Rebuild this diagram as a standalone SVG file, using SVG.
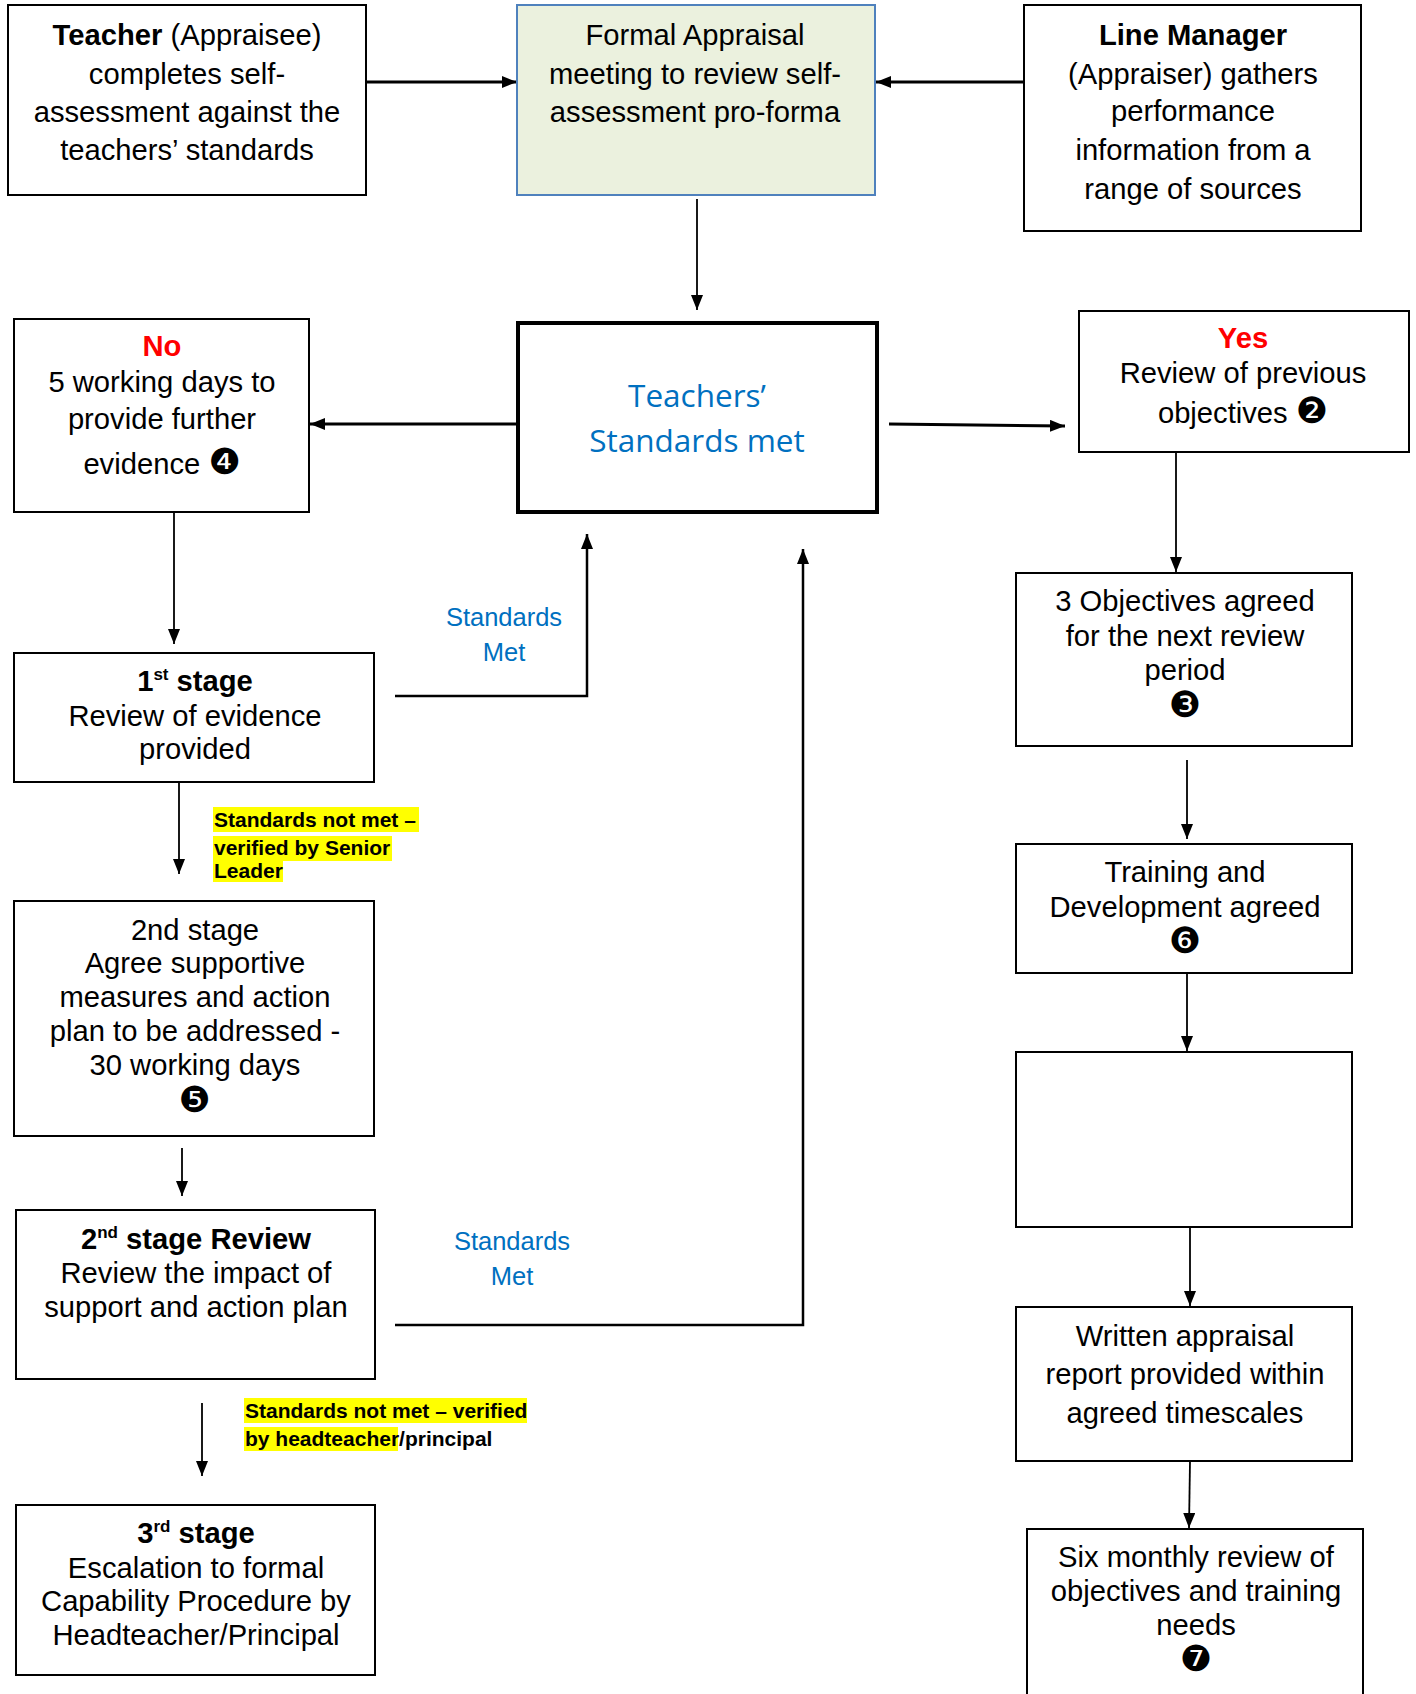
<svg xmlns="http://www.w3.org/2000/svg" width="1416" height="1694" viewBox="0 0 1416 1694">
<style>
.box{fill:#fff;stroke:#000;stroke-width:2}
.t{font-family:"Liberation Sans",Arial,sans-serif;font-size:29.2px;fill:#000;text-anchor:middle}
.b{font-weight:bold}
.red{fill:#ff0000;font-weight:bold}
.blue{font-family:"Liberation Sans",Arial,sans-serif;font-size:25.5px;fill:#0070c0;text-anchor:middle}
.num{font-family:"DejaVu Sans",sans-serif;font-size:36px}
.hl{fill:#ffff00}
.lab{font-family:"Liberation Sans",Arial,sans-serif;font-size:21px;font-weight:bold;fill:#000}
.c{fill:none;stroke:#000;stroke-width:1.8}
.ck{fill:none;stroke:#000;stroke-width:3}
.sup{font-size:17px}
</style>
<defs>
<marker id="a" markerUnits="userSpaceOnUse" markerWidth="16" markerHeight="12" refX="15" refY="6" orient="auto">
<path d="M0,0 L15,6 L0,12 z" fill="#000"/>
</marker>
</defs>

<g id="connectors">
<line class="ck" x1="366" y1="82" x2="517" y2="82" marker-end="url(#a)"/>
<line class="ck" x1="1026" y1="82" x2="876" y2="82" marker-end="url(#a)"/>
<line class="c" x1="697" y1="199" x2="697" y2="310" marker-end="url(#a)"/>
<line class="ck" x1="518" y1="424" x2="310" y2="424" marker-end="url(#a)"/>
<line class="ck" x1="889" y1="424" x2="1065" y2="426" marker-end="url(#a)"/>
<line class="c" x1="1176" y1="452" x2="1176" y2="572" marker-end="url(#a)"/>
<line class="c" x1="1187" y1="760" x2="1187" y2="839" marker-end="url(#a)"/>
<line class="c" x1="1187" y1="973" x2="1187" y2="1051" marker-end="url(#a)"/>
<line class="c" x1="1190" y1="1227" x2="1190" y2="1306" marker-end="url(#a)"/>
<line class="c" x1="1190" y1="1461" x2="1189" y2="1528" marker-end="url(#a)"/>
<line class="c" x1="174" y1="512" x2="174" y2="644" marker-end="url(#a)"/>
<polyline class="c" style="stroke-width:2.5" points="395,696 587,696 587,534" marker-end="url(#a)"/>
<line class="c" x1="179" y1="782" x2="179" y2="874" marker-end="url(#a)"/>
<line class="c" x1="182" y1="1148" x2="182" y2="1196" marker-end="url(#a)"/>
<polyline class="c" style="stroke-width:2.5" points="395,1325 803,1325 803,549" marker-end="url(#a)"/>
<line class="c" x1="202" y1="1403" x2="202" y2="1476" marker-end="url(#a)"/>
<text class="blue" x="504" y="626">Standards</text>
<text class="blue" x="504" y="661">Met</text>
<text class="blue" x="512" y="1250">Standards</text>
<text class="blue" x="512" y="1285">Met</text>
<rect class="hl" x="213" y="807" width="206" height="25"/>
<rect class="hl" x="213" y="836" width="179" height="25"/>
<rect class="hl" x="213" y="861" width="70" height="21"/>
<text class="lab" x="214" y="827">Standards not met –</text>
<text class="lab" x="214" y="855">verified by Senior</text>
<text class="lab" x="214" y="878">Leader</text>
<rect class="hl" x="244" y="1398" width="283" height="25"/>
<rect class="hl" x="244" y="1427" width="154" height="24"/>
<text class="lab" x="245" y="1418">Standards not met – verified</text>
<text class="lab" x="245" y="1446">by headteacher/principal</text>
</g>

<g id="teacher">
<rect class="box" x="8" y="5" width="358" height="190"/>
<text class="t" x="187" y="45"><tspan class="b">Teacher</tspan> (Appraisee)</text>
<text class="t" x="187" y="84">completes self-</text>
<text class="t" x="187" y="122">assessment against the</text>
<text class="t" x="187" y="160">teachers’ standards</text>
</g>

<g id="formal">
<rect x="517" y="5" width="358" height="190" fill="#ebf1de" stroke="#4f81bd" stroke-width="2"/>
<text class="t" x="695" y="45">Formal Appraisal</text>
<text class="t" x="695" y="84">meeting to review self-</text>
<text class="t" x="695" y="122">assessment pro-forma</text>
</g>

<g id="linemanager">
<rect class="box" x="1024" y="5" width="337" height="226"/>
<text class="t b" x="1193" y="45">Line Manager</text>
<text class="t" x="1193" y="84">(Appraiser) gathers</text>
<text class="t" x="1193" y="121">performance</text>
<text class="t" x="1193" y="160">information from a</text>
<text class="t" x="1193" y="199">range of sources</text>
</g>

<g id="standards">
<rect x="518" y="323" width="359" height="189" fill="#fff" stroke="#000" stroke-width="4"/>
<text x="697" y="407" font-family="'Open Sans','Noto Sans',sans-serif" font-size="31.5" fill="#0070c0" text-anchor="middle">Teachers’</text>
<text x="697" y="452" font-family="'Open Sans','Noto Sans',sans-serif" font-size="31.5" fill="#0070c0" text-anchor="middle">Standards met</text>
</g>

<g id="no">
<rect class="box" x="14" y="319" width="295" height="193"/>
<text class="t red" x="162" y="356">No</text>
<text class="t" x="162" y="392">5 working days to</text>
<text class="t" x="162" y="429">provide further</text>
<text class="t" x="162" y="474">evidence <tspan class="num">❹</tspan></text>
</g>

<g id="yes">
<rect class="box" x="1079" y="311" width="330" height="141"/>
<text class="t red" x="1243" y="348">Yes</text>
<text class="t" x="1243" y="383">Review of previous</text>
<text class="t" x="1243" y="423">objectives <tspan class="num">❷</tspan></text>
</g>

<g id="objectives">
<rect class="box" x="1016" y="573" width="336" height="173"/>
<text class="t" x="1185" y="611">3 Objectives agreed</text>
<text class="t" x="1185" y="646">for the next review</text>
<text class="t" x="1185" y="680">period</text>
<text class="t num" x="1185" y="717">❸</text>
</g>

<g id="training">
<rect class="box" x="1016" y="844" width="336" height="129"/>
<text class="t" x="1185" y="882">Training and</text>
<text class="t" x="1185" y="917">Development agreed</text>
<text class="t num" x="1185" y="953">❻</text>
</g>

<g id="empty">
<rect class="box" x="1016" y="1052" width="336" height="175"/>
</g>

<g id="written">
<rect class="box" x="1016" y="1307" width="336" height="154"/>
<text class="t" x="1185" y="1346">Written appraisal</text>
<text class="t" x="1185" y="1384">report provided within</text>
<text class="t" x="1185" y="1423">agreed timescales</text>
</g>

<g id="sixmonthly">
<rect class="box" x="1027" y="1529" width="336" height="180"/>
<text class="t" x="1196" y="1567">Six monthly review of</text>
<text class="t" x="1196" y="1601">objectives and training</text>
<text class="t" x="1196" y="1635">needs</text>
<text class="t num" x="1196" y="1671">❼</text>
</g>

<g id="stage1">
<rect class="box" x="14" y="653" width="360" height="129"/>
<text class="t b" x="195" y="691">1<tspan class="sup" dy="-11">st</tspan><tspan dy="11"> stage</tspan></text>
<text class="t" x="195" y="726">Review of evidence</text>
<text class="t" x="195" y="759">provided</text>
</g>

<g id="stage2">
<rect class="box" x="14" y="901" width="360" height="235"/>
<text class="t" x="195" y="940">2nd stage</text>
<text class="t" x="195" y="973">Agree supportive</text>
<text class="t" x="195" y="1007">measures and action</text>
<text class="t" x="195" y="1041">plan to be addressed -</text>
<text class="t" x="195" y="1075">30 working days</text>
<text class="t num" x="195" y="1112">❺</text>
</g>

<g id="stage2review">
<rect class="box" x="16" y="1210" width="359" height="169"/>
<text class="t b" x="196" y="1249">2<tspan class="sup" dy="-11">nd</tspan><tspan dy="11"> stage Review</tspan></text>
<text class="t" x="196" y="1283">Review the impact of</text>
<text class="t" x="196" y="1317">support and action plan</text>
</g>

<g id="stage3">
<rect class="box" x="16" y="1505" width="359" height="170"/>
<text class="t b" x="196" y="1543">3<tspan class="sup" dy="-11">rd</tspan><tspan dy="11"> stage</tspan></text>
<text class="t" x="196" y="1578">Escalation to formal</text>
<text class="t" x="196" y="1611">Capability Procedure by</text>
<text class="t" x="196" y="1645">Headteacher/Principal</text>
</g>
</svg>
